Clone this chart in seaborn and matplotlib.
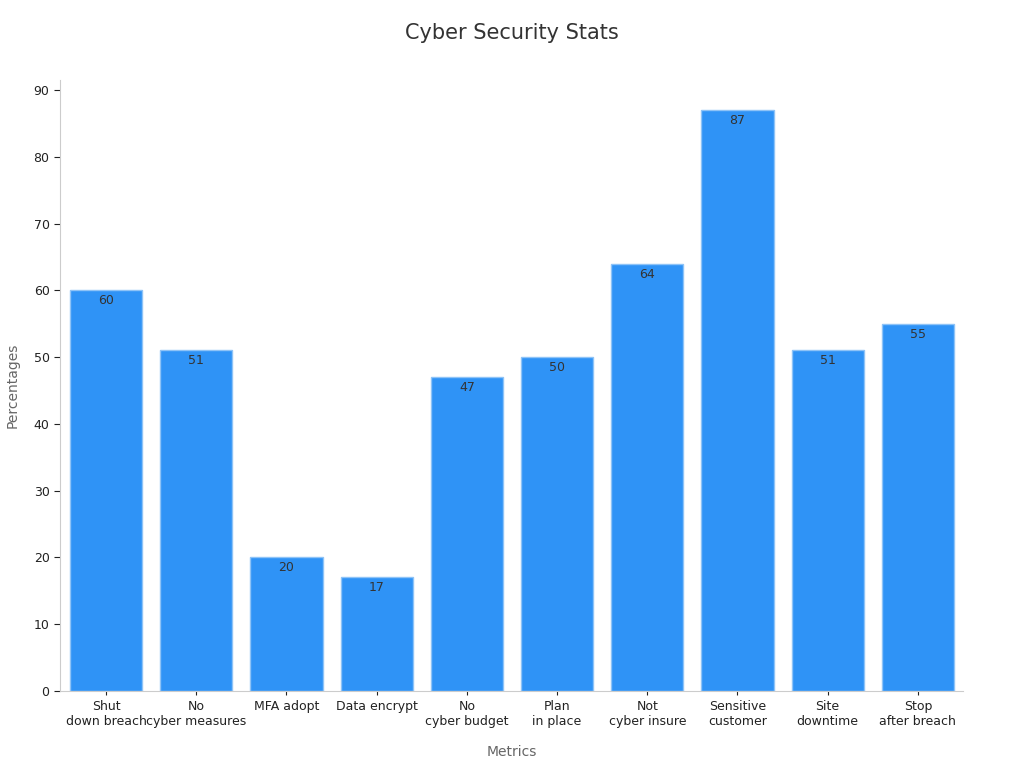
import matplotlib
matplotlib.use("Agg")
import matplotlib.pyplot as plt
import seaborn as sns
import pandas as pd

categories = ["Shut\ndown breach", "No\ncyber measures", "MFA adopt", "Data encrypt",
              "No\ncyber budget", "Plan\nin place", "Not\ncyber insure", "Sensitive\ncustomer",
              "Site\ndowntime", "Stop\nafter breach"]
values = [60, 51, 20, 17, 47, 50, 64, 87, 51, 55]

df = pd.DataFrame({"Metrics": categories, "Percentages": values})
fig = plt.figure(figsize=(10.24, 7.68), dpi=100)
ax = fig.add_axes([60/1024, 1-691/768, (963-60)/1024, (691-80)/768])
sns.barplot(data=df, x="Metrics", y="Percentages", color="#2f93f6", saturation=1,
            width=0.8, edgecolor="#8ec3f7", linewidth=1, ax=ax)
for i, v in enumerate(values):
    ax.text(i, v - 0.6, str(v), ha="center", va="top", fontsize=9, color="#333333")
ax.set_ylim(0, 91.5)
ax.set_xlim(-0.51, 9.5)
ax.set_yticks(range(0, 91, 10))
ax.tick_params(labelsize=9, colors="#222222", length=4)
ax.tick_params(axis="x", length=3)
for s in ["top", "right"]:
    ax.spines[s].set_visible(False)
for s in ["left", "bottom"]:
    ax.spines[s].set_color("#cccccc")
ax.set_xlabel("Metrics", fontsize=10, color="#666666", labelpad=12)
ax.set_ylabel("Percentages", fontsize=10, color="#666666", labelpad=10)
fig.text(0.5, 1-33/768, "Cyber Security Stats", ha="center", va="center", fontsize=15, color="#333333")
fig.savefig("out.png", dpi=100)
